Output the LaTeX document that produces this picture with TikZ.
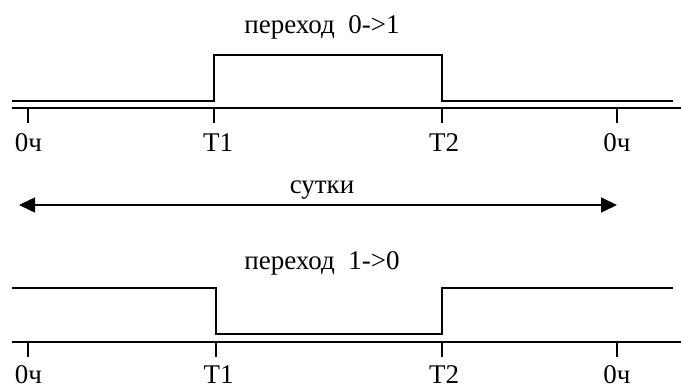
\documentclass[tikz,border=0pt]{standalone}
\usepackage{fontspec}
\setmainfont{Liberation Serif}
\usetikzlibrary{arrows.meta}
\begin{document}
\begin{tikzpicture}[x=1pt,y=-1pt,
  sig/.style={line width=1.6pt},
  axisline/.style={line width=1.6pt},
  tick/.style={line width=1.6pt},
  lbl/.style={anchor=base,inner sep=0pt,font=\fontsize{27}{30}\selectfont},
  ttl/.style={anchor=base,inner sep=0pt,font=\fontsize{27}{30}\selectfont}]
\useasboundingbox (0,0) rectangle (681,390);
% ---------- top: transition 0->1
\node[ttl] (t1) at (322,34) {переход\ \ 0->1};
\coordinate (a0) at (12,101);
\coordinate (a1) at (214,101);
\coordinate (a2) at (214,55);
\coordinate (a3) at (442,55);
\coordinate (a4) at (442,101);
\coordinate (a5) at (673,101);
\draw[sig] (a0) -- (a1) -- (a2) -- (a3) -- (a4) -- (a5);
\coordinate (ax0) at (12,108);
\coordinate (ax1) at (681,108);
\draw[axisline] (ax0) -- (ax1);
\foreach \x/\n in {28/ta,214/tb,442/tc,617/td}{
  \coordinate (\n top) at (\x,108);
  \coordinate (\n bot) at (\x,123);
  \draw[tick] (\n top) -- (\n bot);
}
\node[lbl] (l1) at (28.5,152) {0ч};
\node[lbl] (l2) at (218,152) {T1};
\node[lbl] (l3) at (444,152) {T2};
\node[lbl] (l4) at (617,152) {0ч};
% ---------- middle: day arrow
\node[ttl] (sut) at (322,194) {сутки};
\coordinate (ar0) at (19,205);
\coordinate (ar1) at (617,205);
\draw[line width=1.6pt,{Triangle[length=16pt,width=15pt]}-{Triangle[length=16pt,width=15pt]}] (ar0) -- (ar1);
% ---------- bottom: transition 1->0
\node[ttl] (t2) at (322,270) {переход\ \ 1->0};
\coordinate (b0) at (12,288);
\coordinate (b1) at (216,288);
\coordinate (b2) at (216,334);
\coordinate (b3) at (442,334);
\coordinate (b4) at (442,288);
\coordinate (b5) at (673,288);
\draw[sig] (b0) -- (b1) -- (b2) -- (b3) -- (b4) -- (b5);
\coordinate (bx0) at (12,342);
\coordinate (bx1) at (681,342);
\draw[axisline] (bx0) -- (bx1);
\foreach \x/\n in {28/ua,216/ub,442/uc,617/ud}{
  \coordinate (\n top) at (\x,342);
  \coordinate (\n bot) at (\x,357);
  \draw[tick] (\n top) -- (\n bot);
}
\node[lbl] (m1) at (28.5,384) {0ч};
\node[lbl] (m2) at (218.5,384) {T1};
\node[lbl] (m3) at (444,384) {T2};
\node[lbl] (m4) at (617,384) {0ч};
\end{tikzpicture}
\end{document}
